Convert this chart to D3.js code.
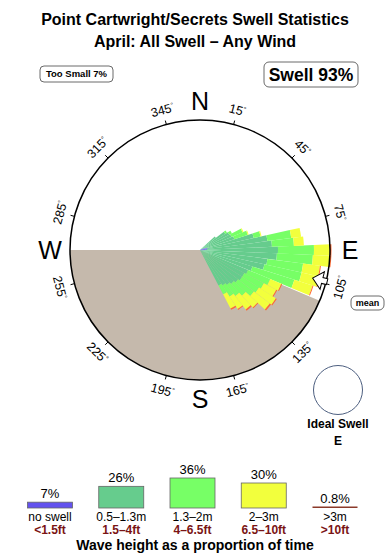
<!DOCTYPE html>
<html>
<head>
<meta charset="utf-8">
<script src="https://cdn.jsdelivr.net/npm/d3@7"></script>
<style>
  body { margin: 0; background: #fff; }
  svg { font-family: "Liberation Sans", Arial, sans-serif; }
</style>
</head>
<body>
<svg width="390" height="560"></svg>
<script>
// direction bins (degrees, 5 degree wide)
const bearings = [50, 55, 60, 65, 70, 75, 80, 85, 90, 95, 100, 105, 110, 115, 120, 125, 130, 135, 140, 145, 150];
// share of time per bin for each wave height class
const noSwell = [0, 0, 0, 0.2, 0.5, 0.7, 0.8, 0.7, 0.5, 0.3, 0.2, 0, 0, 0, 0, 0, 0, 0, 0, 0, 0];
const small   = [2.0, 3.0, 3.3, 3.2, 3.1, 4.8, 6.0, 6.5, 7.3, 7.4, 6.6, 6.6, 5.5, 5.2, 5.0, 5.0, 4.8, 4.6, 4.4, 4.2, 4.0];
const medium  = [0, 0.2, 0.3, 1.2, 1.4, 0.7, 2.4, 2.2, 3.6, 3.6, 3.6, 3.8, 4.4, 2.4, 2.2, 2.0, 2.0, 1.6, 1.4, 1.3, 1.0];
const large   = [0, 0, 0, 0.1, 0.1, 0.1, 1.0, 1.0, 1.6, 1.7, 1.7, 1.8, 1.9, 1.2, 1.4, 2.0, 2.0, 1.6, 1.7, 1.5, 1.6];
const huge    = [0, 0, 0, 0, 0, 0, 0, 0, 0.15, 0.15, 0.1, 0.1, 0.1, 0.1, 0.1, 0.1, 0.15, 0.1, 0.15, 0.1, 0.15];

const classKeys = ['noSwell', 'small', 'medium', 'large', 'huge'];
const classColors = ['#6352ee', '#66cc8d', '#77ff66', '#f2ff3d', '#ff6a33'];
const legendColors = ['#6352ee', '#66cc8d', '#77ff66', '#f2ff3d', '#8b3a2a'];
const legendPct = [7, 26, 36, 30, 0.8];
const legendPctText = ['7%', '26%', '36%', '30%', '0.8%'];
const legendMetres = ['no swell', '0.5–1.3m', '1.3–2m', '2–3m', '>3m'];
const legendFeet = ['<1.5ft', '1.5–4ft', '4–6.5ft', '6.5–10ft', '>10ft'];

const degreeTicks = [15, 45, 75, 105, 135, 165, 195, 225, 255, 285, 315, 345];
const cardinals = [['N', 0], ['E', 90], ['S', 180], ['W', 270]];
const landFrom = 113, landTo = 270;
const meanDir = 104;

const svg = d3.select('svg');
const width = +svg.attr('width');
const cx = 200, cy = 250, R = 130;
const rad = Math.PI / 180;

const rows = bearings.map((b, i) => ({
  bearing: b, noSwell: noSwell[i], small: small[i], medium: medium[i], large: large[i], huge: huge[i]
}));
const series = d3.stack().keys(classKeys)(rows);

const rScale = d3.scaleLinear().domain([0, 13]).range([0, R]);

// titles
svg.append('text').attr('x', width / 2).attr('y', 25).attr('text-anchor', 'middle')
  .attr('font-size', 16).attr('font-weight', 'bold')
  .text('Point Cartwright/Secrets Swell Statistics');
svg.append('text').attr('x', width / 2).attr('y', 47).attr('text-anchor', 'middle')
  .attr('font-size', 16).attr('font-weight', 'bold')
  .text('April: All Swell – Any Wind');

// badge boxes
const badge = (x, y, w, h, rx, size, label) => {
  svg.append('rect').attr('x', x).attr('y', y).attr('width', w).attr('height', h)
    .attr('rx', rx).attr('fill', '#fff').attr('stroke', '#444').attr('stroke-width', 0.8);
  svg.append('text').attr('x', x + w / 2).attr('y', y + h / 2).attr('dy', '0.35em')
    .attr('text-anchor', 'middle').attr('font-size', size).attr('font-weight', 'bold')
    .text(label);
};
badge(40, 66, 73, 16, 4, 9.5, 'Too Small 7%');
badge(264, 62, 94, 25, 5, 17.5, 'Swell 93%');
badge(351, 296, 33, 14, 5, 9, 'mean');

const g = svg.append('g').attr('transform', `translate(${cx},${cy})`);

// land sector
g.append('path')
  .attr('d', d3.arc()({ innerRadius: 0, outerRadius: R, startAngle: landFrom * rad, endAngle: landTo * rad }))
  .attr('fill', '#c5b9ac');

// rose wedges
const arc = d3.arc()
  .innerRadius(d => rScale(d[0]))
  .outerRadius(d => rScale(d[1]))
  .startAngle(d => (d.data.bearing - 2.5) * rad)
  .endAngle(d => (d.data.bearing + 2.5) * rad);

g.selectAll('g.layer').data(series).enter().append('g')
  .attr('class', 'layer')
  .attr('fill', (d, i) => classColors[i])
  .selectAll('path').data(d => d.filter(p => p[1] > p[0])).enter().append('path')
    .attr('d', arc);

// outer ring
g.append('circle').attr('r', R).attr('fill', 'none').attr('stroke', '#000').attr('stroke-width', 1.5);

// degree ticks and labels
const pol = (b, r) => [r * Math.sin(b * rad), -r * Math.cos(b * rad)];
g.selectAll('line.tick').data(degreeTicks).enter().append('line')
  .attr('class', 'tick')
  .attr('x1', d => pol(d, R)[0]).attr('y1', d => pol(d, R)[1])
  .attr('x2', d => pol(d, R + 4)[0]).attr('y2', d => pol(d, R + 4)[1])
  .attr('stroke', '#000').attr('stroke-width', 1);

const degLabels = g.selectAll('text.deg').data(degreeTicks).enter().append('text')
  .attr('class', 'deg')
  .attr('text-anchor', 'middle')
  .attr('font-size', 12.5)
  .attr('transform', d => {
    const [x, y] = pol(d, 145);
    const rot = (d > 90 && d < 270) ? d - 180 : (d >= 270 ? d - 360 : d);
    return `translate(${x},${y}) rotate(${rot})`;
  });
degLabels.append('tspan').attr('dy', '0.35em').text(d => d);
degLabels.append('tspan').attr('font-size', 7).attr('dy', '-0.6em').text('°');

g.selectAll('text.card').data(cardinals).enter().append('text')
  .attr('class', 'card')
  .attr('x', d => pol(d[1], 150)[0]).attr('y', d => pol(d[1], 149)[1])
  .attr('dy', '0.36em').attr('text-anchor', 'middle')
  .attr('font-size', 25)
  .text(d => d[0]);

// mean direction arrow
g.append('path')
  .attr('transform', `rotate(${meanDir})`)
  .attr('d', 'M0,' + (-R + 14) + ' L9,' + (-R + 4) + ' L3,' + (-R + 4) + ' L3,' + (-R - 1) +
    ' L-3,' + (-R - 1) + ' L-3,' + (-R + 4) + ' L-9,' + (-R + 4) + ' Z')
  .attr('fill', '#fff').attr('stroke', '#000').attr('stroke-width', 1);

// ideal swell marker
svg.append('circle').attr('cx', 338).attr('cy', 390).attr('r', 24.5)
  .attr('fill', 'none').attr('stroke', '#4d5f80').attr('stroke-width', 1);
svg.append('text').attr('x', 338).attr('y', 428).attr('text-anchor', 'middle')
  .attr('font-size', 12).attr('font-weight', 'bold').text('Ideal Swell');
svg.append('text').attr('x', 338).attr('y', 445).attr('text-anchor', 'middle')
  .attr('font-size', 12).attr('font-weight', 'bold').text('E');

// legend
const lx = d3.scalePoint().domain(legendMetres).range([50, 335]);
const lh = d3.scaleLinear().domain([0, 36]).range([0, 30]);
const base = 508, barW = 45;
const leg = svg.append('g');
leg.selectAll('rect').data(legendMetres).enter().append('rect')
  .attr('x', d => lx(d) - barW / 2)
  .attr('y', (d, i) => base - Math.max(lh(legendPct[i]), 1.5))
  .attr('width', barW)
  .attr('height', (d, i) => Math.max(lh(legendPct[i]), 1.5))
  .attr('fill', (d, i) => legendColors[i])
  .attr('stroke', (d, i) => i === 4 ? 'none' : '#666').attr('stroke-width', 0.8);
leg.selectAll('text.pct').data(legendMetres).enter().append('text')
  .attr('class', 'pct')
  .attr('x', d => lx(d)).attr('y', (d, i) => base - Math.max(lh(legendPct[i]), 1.5) - 4)
  .attr('text-anchor', 'middle').attr('font-size', 13)
  .text((d, i) => legendPctText[i]);
leg.selectAll('text.m').data(legendMetres).enter().append('text')
  .attr('class', 'm')
  .attr('x', d => lx(d)).attr('y', 521)
  .attr('text-anchor', 'middle').attr('font-size', 12)
  .text(d => d);
leg.selectAll('text.ft').data(legendFeet).enter().append('text')
  .attr('class', 'ft')
  .attr('x', (d, i) => lx(legendMetres[i])).attr('y', 534)
  .attr('text-anchor', 'middle').attr('font-size', 12).attr('font-weight', 'bold')
  .attr('fill', '#7a1414')
  .text(d => d);
svg.append('text').attr('x', 195).attr('y', 550).attr('text-anchor', 'middle')
  .attr('font-size', 14).attr('font-weight', 'bold')
  .text('Wave height as a proportion of time');
</script>
</body>
</html>
